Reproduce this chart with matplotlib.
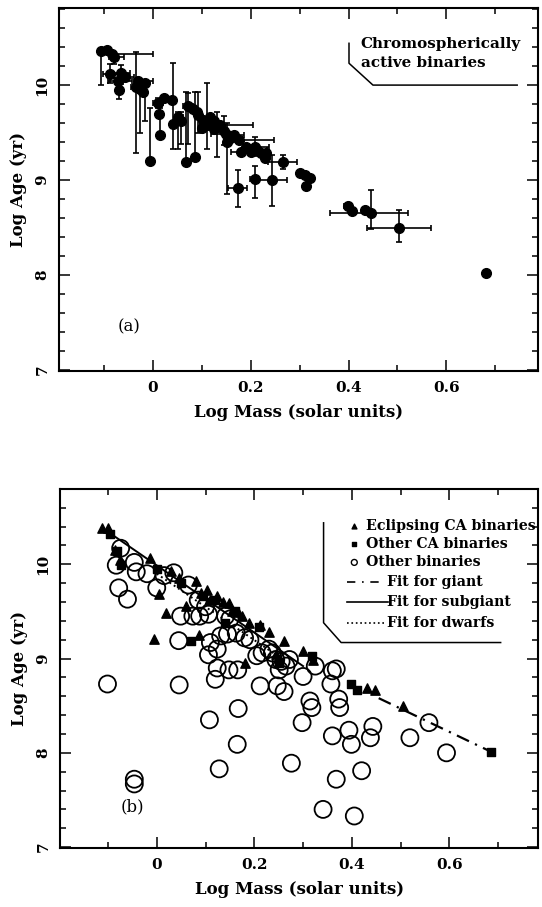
"""Log age vs log mass for chromospherically active binaries (two panels)."""

import matplotlib
matplotlib.use("Agg")
import matplotlib.pyplot as plt
from matplotlib.ticker import MultipleLocator

# ---- panel (a): CA binaries with error bars ----
top_mass = [-0.107, -0.095, -0.083, -0.080, -0.088, -0.066, -0.072, -0.069, -0.058, -0.034,
            -0.027, -0.016, -0.020, -0.030, -0.006, 0.011, 0.022, 0.012, 0.015, 0.038,
            0.040, 0.052, 0.058, 0.068, 0.086, 0.072, 0.082, 0.093, 0.103, 0.110,
            0.117, 0.100, 0.124, 0.131, 0.138, 0.145, 0.149, 0.156, 0.151, 0.166,
            0.177, 0.180, 0.173, 0.208, 0.222, 0.229, 0.213, 0.208, 0.244, 0.265,
            0.300, 0.310, 0.322, 0.313, 0.398, 0.408, 0.433, 0.447, 0.503, 0.682,
            0.090, 0.115, 0.125, 0.160, 0.190, 0.200, 0.232]
top_age = [10.36, 10.37, 10.33, 10.30, 10.12, 10.13, 10.04, 9.95, 10.08, 9.98,
           9.96, 10.02, 9.93, 10.04, 9.20, 9.81, 9.86, 9.70, 9.47, 9.84,
           9.59, 9.66, 9.62, 9.19, 9.24, 9.78, 9.75, 9.69, 9.63, 9.58,
           9.66, 9.55, 9.54, 9.57, 9.58, 9.52, 9.49, 9.43, 9.40, 9.47,
           9.42, 9.30, 8.92, 9.35, 9.29, 9.23, 9.32, 9.01, 9.00, 9.19,
           9.07, 9.05, 9.02, 8.94, 8.73, 8.67, 8.68, 8.65, 8.50, 8.02,
           9.72, 9.60, 9.62, 9.45, 9.35, 9.30, 9.28]
top_mass_lo = [0, 0, 0, 0.01, 0.015, 0.02, 0.02, 0, 0, 0.01,
               0.01, 0.02, 0, 0, 0, 0.01, 0, 0, 0, 0,
               0, 0, 0, 0, 0, 0.01, 0, 0, 0, 0,
               0, 0, 0, 0, 0, 0, 0.03, 0, 0, 0.02,
               0.01, 0.02, 0.02, 0, 0, 0, 0.02, 0.01, 0.035, 0.03,
               0, 0, 0, 0, 0.008, 0, 0, 0.085, 0.065, 0,
               0, 0, 0, 0, 0, 0, 0]
top_mass_hi = [0, 0, 0.083, 0.02, 0.02, 0.02, 0.03, 0, 0.02, 0.02,
               0.01, 0, 0, 0.03, 0, 0.01, 0, 0, 0, 0,
               0, 0.01, 0, 0, 0, 0.01, 0, 0, 0, 0,
               0, 0, 0, 0, 0.067, 0, 0, 0, 0, 0.02,
               0.07, 0, 0.02, 0.03, 0, 0, 0.02, 0, 0.03, 0.03,
               0, 0, 0, 0, 0, 0, 0, 0.075, 0.065, 0,
               0, 0, 0, 0, 0, 0, 0]
top_age_lo = [0.36, 0, 0, 0.08, 0.10, 0.12, 0.08, 0.10, 0, 0.69,
              0.46, 0.40, 0, 0, 0, 0.05, 0, 0, 0, 0,
              0.26, 0.33, 0.24, 0, 0, 0.40, 0, 0.19, 0, 0.25,
              0, 0, 0, 0.33, 0, 0.15, 0, 0, 0.55, 0,
              0, 0, 0.20, 0.10, 0, 0, 0, 0.20, 0.27, 0.07,
              0, 0, 0, 0, 0.03, 0, 0, 0.17, 0.15, 0,
              0, 0, 0, 0, 0, 0, 0]
top_age_hi = [0, 0, 0, 0.05, 0.10, 0.08, 0.08, 0, 0, 0.37,
              0.08, 0, 0, 0, 0.56, 0.05, 0, 0, 0.29, 0,
              0.64, 0.06, 0.10, 0.74, 0.69, 0.14, 0, 0.24, 0, 0.44,
              0, 0, 0, 0.15, 0, 0.15, 0, 0, 0.20, 0,
              0, 0, 0.19, 0.10, 0, 0, 0, 0.14, 0.26, 0.07,
              0, 0, 0, 0, 0.03, 0, 0, 0.25, 0.19, 0,
              0, 0, 0, 0, 0, 0, 0]

# ---- panel (b): three samples plus fits ----
tri_mass = [-0.113, -0.099, -0.085, -0.075, -0.014, 0.005, 0.018, -0.005, 0.030, 0.045,
            0.060, 0.081, 0.087, 0.090, 0.102, 0.110, 0.124, 0.135, 0.148, 0.155,
            0.166, 0.175, 0.180, 0.190, 0.212, 0.230, 0.245, 0.261, 0.300, 0.320,
            0.431, 0.447, 0.504]
tri_age = [10.39, 10.39, 10.15, 10.05, 10.07, 9.68, 9.48, 9.21, 9.93, 9.85,
           9.56, 9.82, 9.25, 9.70, 9.73, 9.62, 9.66, 9.60, 9.59, 9.50,
           9.49, 9.45, 8.95, 9.38, 9.36, 9.28, 9.05, 9.19, 9.08, 8.98,
           8.69, 8.67, 8.50]
sq_mass = [-0.095, -0.081, -0.074, 0.000, 0.050, 0.071, 0.095, 0.120, 0.140, 0.160,
           0.210, 0.250, 0.318, 0.399, 0.410, 0.686]
sq_age = [10.32, 10.14, 9.99, 9.95, 9.80, 9.19, 9.66, 9.62, 9.38, 9.50,
          9.33, 8.95, 9.03, 8.73, 8.67, 8.01]
circ_mass = [-0.101, -0.078, -0.060, -0.083, -0.074, -0.046, -0.042, -0.046, -0.046, 0.000,
             0.035, 0.049, 0.045, 0.046, 0.074, 0.088, 0.106, 0.106, 0.110, 0.108,
             0.124, 0.124, 0.120, 0.131, 0.145, 0.148, 0.166, 0.167, 0.165, 0.128,
             0.141, 0.163, 0.191, 0.205, 0.212, 0.216, 0.237, 0.244, 0.247, 0.261,
             0.251, 0.265, 0.272, 0.276, 0.300, 0.298, 0.314, 0.318, 0.325, 0.341,
             0.357, 0.360, 0.368, 0.360, 0.368, 0.373, 0.375, 0.394, 0.399, 0.405,
             0.420, 0.438, 0.443, 0.519, 0.558, 0.594, -0.020, 0.015, 0.065, 0.085,
             0.100, 0.150, 0.180, 0.230, 0.255]
circ_age = [8.73, 9.75, 9.63, 9.99, 10.17, 10.02, 9.92, 7.72, 7.67, 9.75,
            9.91, 9.45, 9.19, 8.72, 9.45, 9.45, 9.47, 9.04, 9.17, 8.35,
            9.10, 8.90, 8.78, 9.24, 9.26, 8.88, 8.88, 8.47, 8.09, 7.83,
            9.45, 9.27, 9.20, 9.03, 8.71, 9.06, 9.06, 8.99, 8.71, 8.65,
            8.88, 8.92, 8.99, 7.89, 8.81, 8.32, 8.55, 8.48, 8.92, 7.40,
            8.73, 8.87, 8.89, 8.18, 7.72, 8.57, 8.48, 8.24, 8.09, 7.33,
            7.81, 8.16, 8.28, 8.16, 8.32, 8.00, 9.90, 9.88, 9.78, 9.62,
            9.55, 9.42, 9.22, 9.10, 8.97]

giant_mass = [0.455, 0.690]
giant_age = [8.58, 8.00]
subgiant_mass = [-0.110, 0.300]
subgiant_age = [10.38, 8.92]
dwarf_mass = [0.000, 0.250]
dwarf_age = [9.90, 9.02]

FONT = dict(family="DejaVu Serif", fontweight="bold")


def style_axes(ax, xlim, ylim):
    ax.set_xlim(*xlim)
    ax.set_ylim(*ylim)
    ax.set_xticks([0, 0.2, 0.4, 0.6])
    ax.set_xticklabels(["0", "0.2", "0.4", "0.6"], **FONT)
    ax.xaxis.set_minor_locator(MultipleLocator(0.1))
    ax.set_yticks([7, 8, 9, 10])
    ax.set_yticklabels(["7", "8", "9", "10"], rotation=90, va="center", **FONT)
    ax.yaxis.set_minor_locator(MultipleLocator(0.2))
    ax.tick_params(which="both", direction="in", top=True, right=True,
                   labelsize=11, width=1.1, colors="black")
    ax.tick_params(which="major", length=8, pad=7)
    ax.tick_params(which="minor", length=4)
    for s in ax.spines.values():
        s.set_linewidth(1.5)
    ax.set_xlabel("Log Mass (solar units)", fontsize=12, labelpad=7, **FONT)
    ax.set_ylabel("Log Age (yr)", fontsize=12, labelpad=6, **FONT)


fig = plt.figure(figsize=(5.42, 9.07), dpi=100)

# panel (a)
ax1 = fig.add_axes([0.109, 0.591, 0.884, 0.400])
ax1.errorbar(top_mass, top_age,
             xerr=[top_mass_lo, top_mass_hi], yerr=[top_age_lo, top_age_hi],
             fmt="o", color="black", ms=7, elinewidth=1.2, capsize=2.5, capthick=1.2)
style_axes(ax1, (-0.192, 0.788), (6.99, 10.81))
ax1.text(0.425, 10.43, "Chromospherically", fontsize=10.9, va="center", **FONT)
ax1.text(0.425, 10.23, "active binaries", fontsize=10.9, va="center", **FONT)
ax1.plot([0.401, 0.401, 0.45, 0.745], [10.44, 10.23, 10.0, 10.0], color="black", lw=1.1)
ax1.text(-0.072, 7.45, "(a)", fontsize=12, va="center", family="DejaVu Serif")

# panel (b)
ax2 = fig.add_axes([0.111, 0.065, 0.882, 0.396])
ax2.plot(giant_mass, giant_age, color="black", lw=1.6, ls=(0, (6, 3, 1, 3)))
ax2.plot(subgiant_mass, subgiant_age, color="black", lw=1.4)
ax2.plot(dwarf_mass, dwarf_age, color="black", lw=1.4, ls=":")
ax2.scatter(circ_mass, circ_age, s=150, facecolors="none", edgecolors="black", linewidths=1.3)
ax2.scatter(tri_mass, tri_age, s=45, marker="^", color="black")
ax2.scatter(sq_mass, sq_age, s=35, marker="s", color="black")
style_axes(ax2, (-0.198, 0.782), (6.99, 10.80))

# hand-drawn style legend box
ax2.plot([0.342, 0.342, 0.378, 0.705], [10.44, 9.38, 9.17, 9.17], color="black", lw=1.1)
rows = [10.41, 10.22, 10.02, 9.81, 9.60, 9.38]
ax2.scatter([0.405], [rows[0]], s=12, marker="^", color="black")
ax2.scatter([0.405], [rows[1]], s=10, marker="s", color="black")
ax2.scatter([0.405], [rows[2]], s=18, facecolors="none", edgecolors="black", linewidths=1.0)
ax2.plot([0.39, 0.468], [rows[3], rows[3]], color="black", lw=1.2, ls=(0, (5, 4, 1, 4)))
ax2.plot([0.39, 0.475], [rows[4], rows[4]], color="black", lw=1.2)
ax2.plot([0.39, 0.468], [rows[5], rows[5]], color="black", lw=1.2, ls=":")
ax2.text(0.428, rows[0], "Eclipsing CA binaries", fontsize=10.2, va="center", **FONT)
ax2.text(0.428, rows[1], "Other CA binaries", fontsize=10.2, va="center", **FONT)
ax2.text(0.428, rows[2], "Other binaries", fontsize=10.2, va="center", **FONT)
ax2.text(0.472, rows[3], "Fit for giant", fontsize=10.2, va="center", **FONT)
ax2.text(0.472, rows[4], "Fit for subgiant", fontsize=10.2, va="center", **FONT)
ax2.text(0.472, rows[5], "Fit for dwarfs", fontsize=10.2, va="center", **FONT)
ax2.text(-0.074, 7.43, "(b)", fontsize=12, va="center", family="DejaVu Serif")

fig.savefig("out.png", dpi=100, facecolor="white")
